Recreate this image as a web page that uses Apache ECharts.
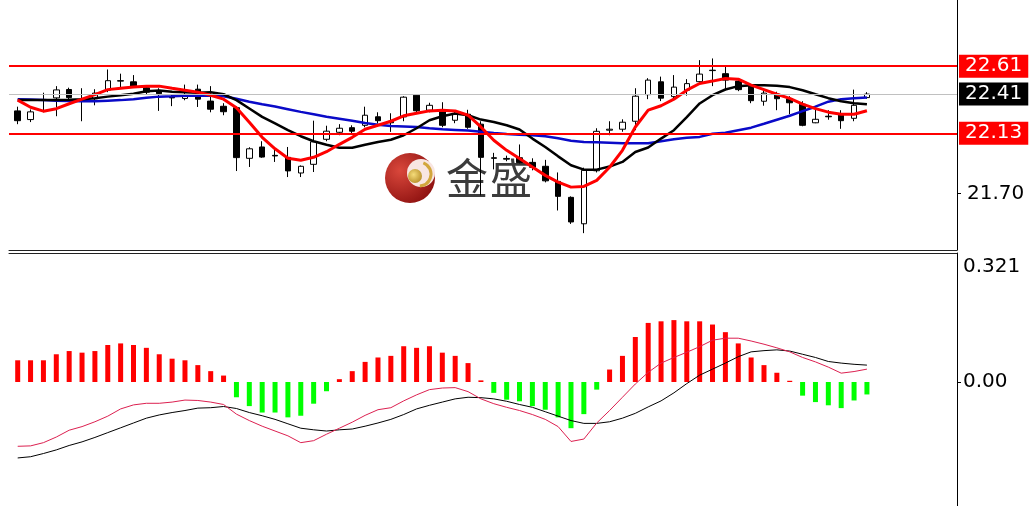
<!DOCTYPE html>
<html><head><meta charset="utf-8">
<script src="https://cdn.jsdelivr.net/npm/echarts@6/dist/echarts.min.js"></script>
<style>html,body{margin:0;padding:0;background:#fff}#c{width:1033px;height:506px}</style>
</head><body><div id="c"></div>
<script>
// ---- price candles (open / close / low / high) ----
const openP = [22.29,22.228,22.366,22.383,22.443,22.375,22.377,22.438,22.506,22.498,22.456,22.43,22.388,22.379,22.445,22.36,22.323,22.313,21.951,22.032,21.972,21.958,21.846,21.908,22.087,22.137,22.17,22.187,22.248,22.216,22.247,22.402,22.295,22.295,22.223,22.266,22.195,21.955,21.95,21.955,21.922,21.894,21.786,21.672,21.483,21.862,22.152,22.159,22.216,22.406,22.498,22.392,22.438,22.499,22.581,22.556,22.503,22.467,22.359,22.41,22.377,22.338,22.205,22.252,22.266,22.237,22.385];
const closeP = [22.22,22.283,22.37,22.44,22.385,22.37,22.417,22.506,22.503,22.467,22.424,22.413,22.383,22.407,22.374,22.302,22.284,21.956,22.019,21.96,21.968,21.861,21.894,22.069,22.145,22.166,22.145,22.259,22.22,22.205,22.388,22.291,22.33,22.187,22.266,22.173,21.958,21.951,21.945,21.92,21.887,21.79,21.679,21.496,21.865,22.144,22.159,22.209,22.395,22.51,22.381,22.46,22.485,22.553,22.578,22.51,22.442,22.363,22.417,22.377,22.348,22.187,22.23,22.248,22.22,22.33,22.41];
const lowP = [22.195,22.21,22.28,22.252,22.374,22.216,22.33,22.424,22.452,22.456,22.41,22.29,22.324,22.366,22.318,22.28,22.259,21.86,21.889,21.955,21.925,21.817,21.817,21.853,22.073,22.116,22.13,22.173,22.20,22.14,22.216,22.273,22.28,22.173,22.202,22.162,21.686,21.872,21.93,21.915,21.865,21.779,21.578,21.482,21.416,21.85,22.116,22.141,22.152,22.374,22.36,22.377,22.399,22.481,22.467,22.438,22.431,22.345,22.327,22.295,22.266,22.18,22.202,22.227,22.162,22.216,22.377];
const highP = [22.32,22.30,22.42,22.467,22.456,22.452,22.445,22.586,22.556,22.546,22.467,22.452,22.41,22.478,22.478,22.467,22.345,22.323,22.03,22.073,22.02,22.032,21.90,22.22,22.184,22.195,22.187,22.32,22.28,22.273,22.395,22.41,22.348,22.352,22.295,22.298,22.216,21.99,21.97,22.05,21.951,21.94,21.85,21.679,21.884,22.166,22.216,22.23,22.452,22.524,22.535,22.546,22.517,22.653,22.665,22.61,22.517,22.474,22.438,22.427,22.395,22.359,22.306,22.295,22.295,22.442,22.424];

// ---- moving averages ----
const maFast = [22.367,22.316,22.288,22.306,22.341,22.374,22.406,22.442,22.452,22.460,22.467,22.467,22.452,22.438,22.424,22.402,22.374,22.313,22.209,22.101,22.019,21.951,21.937,21.958,21.998,22.051,22.101,22.159,22.187,22.216,22.255,22.273,22.290,22.295,22.290,22.259,22.175,22.080,22.008,21.949,21.889,21.829,21.781,21.745,21.750,21.793,21.887,22.008,22.175,22.295,22.327,22.374,22.438,22.486,22.503,22.522,22.517,22.474,22.442,22.409,22.379,22.338,22.306,22.281,22.266,22.266,22.291];
const maMid = [22.367,22.367,22.367,22.367,22.370,22.374,22.381,22.392,22.402,22.413,22.431,22.435,22.427,22.424,22.420,22.424,22.409,22.367,22.307,22.247,22.200,22.152,22.109,22.073,22.048,22.026,22.026,22.048,22.068,22.084,22.116,22.166,22.223,22.252,22.271,22.259,22.228,22.211,22.187,22.157,22.092,22.032,21.965,21.901,21.870,21.870,21.892,21.925,21.996,22.028,22.092,22.152,22.245,22.343,22.402,22.443,22.467,22.474,22.474,22.470,22.460,22.438,22.409,22.381,22.359,22.345,22.338];
const maSlow = [22.374,22.371,22.367,22.363,22.361,22.359,22.359,22.363,22.367,22.374,22.384,22.392,22.395,22.399,22.399,22.399,22.395,22.377,22.356,22.338,22.321,22.302,22.283,22.266,22.248,22.234,22.220,22.204,22.191,22.182,22.179,22.175,22.166,22.159,22.154,22.149,22.141,22.132,22.124,22.119,22.116,22.109,22.094,22.076,22.068,22.066,22.062,22.058,22.058,22.058,22.073,22.087,22.098,22.104,22.127,22.134,22.152,22.170,22.198,22.227,22.255,22.288,22.320,22.356,22.374,22.381,22.386];

// ---- horizontal levels ----
const levelHigh = 22.61;
const levelLast = 22.41;
const levelLow = 22.13;
const priceTicks = [21.70];

// ---- MACD panel ----
const macdHist = [0.054,0.054,0.054,0.069,0.077,0.073,0.077,0.092,0.096,0.092,0.085,0.069,0.058,0.054,0.042,0.027,0.016,-0.038,-0.060,-0.076,-0.076,-0.088,-0.084,-0.054,-0.023,0.007,0.027,0.050,0.061,0.065,0.089,0.085,0.089,0.073,0.065,0.047,0.004,-0.027,-0.044,-0.048,-0.060,-0.069,-0.088,-0.115,-0.080,-0.019,0.031,0.065,0.112,0.147,0.151,0.154,0.151,0.151,0.143,0.124,0.096,0.061,0.042,0.023,0.003,-0.034,-0.050,-0.058,-0.065,-0.046,-0.031];
const macdLine = [-0.160,-0.159,-0.151,-0.137,-0.120,-0.111,-0.099,-0.085,-0.067,-0.057,-0.053,-0.053,-0.050,-0.045,-0.046,-0.050,-0.056,-0.080,-0.096,-0.110,-0.122,-0.134,-0.151,-0.146,-0.130,-0.115,-0.100,-0.083,-0.069,-0.064,-0.047,-0.032,-0.019,-0.015,-0.014,-0.024,-0.042,-0.054,-0.063,-0.071,-0.081,-0.093,-0.111,-0.148,-0.142,-0.102,-0.071,-0.038,-0.005,0.024,0.047,0.061,0.074,0.088,0.104,0.109,0.109,0.102,0.094,0.085,0.075,0.061,0.050,0.037,0.022,0.026,0.032];
const signalLine = [-0.189,-0.186,-0.178,-0.169,-0.158,-0.149,-0.138,-0.126,-0.114,-0.102,-0.090,-0.082,-0.076,-0.071,-0.065,-0.064,-0.061,-0.066,-0.076,-0.084,-0.093,-0.104,-0.115,-0.119,-0.122,-0.119,-0.117,-0.110,-0.102,-0.093,-0.081,-0.067,-0.058,-0.050,-0.042,-0.038,-0.039,-0.042,-0.048,-0.056,-0.063,-0.074,-0.085,-0.096,-0.103,-0.103,-0.099,-0.090,-0.078,-0.062,-0.047,-0.027,-0.004,0.017,0.032,0.047,0.063,0.075,0.078,0.080,0.077,0.069,0.061,0.051,0.047,0.044,0.042];
const macdTop = 0.321;
const macdZero = 0;

const FONT = '"DejaVu Sans", Verdana, sans-serif';
const pair = arr => arr.map((v, i) => [i, v]);
const candleData = openP.map((o, i) => [i, o, closeP[i], lowP[i], highP[i]]);

const chart = echarts.init(document.getElementById('c'), null, {renderer: 'canvas'});

const boxLabel = (text, bg) => ({
  show: true, position: 'end', formatter: text, distance: 2,
  color: '#fff', backgroundColor: bg, padding: [2, 6, 1, 6],
  fontSize: 20, fontFamily: FONT, lineHeight: 20
});

const option = {
  animation: false,
  backgroundColor: '#ffffff',
  grid: [
    {left: 9, right: 76, top: 0, bottom: 256},
    {left: 9, right: 76, top: 253, bottom: 0}
  ],
  xAxis: [
    {type: 'value', gridIndex: 0, min: -0.676, max: 73, position: 'bottom',
     axisLine: {show: true, onZero: false, lineStyle: {color: '#222', width: 1}},
     axisTick: {show: false}, axisLabel: {show: false}, splitLine: {show: false}},
    {type: 'value', gridIndex: 1, min: -0.676, max: 73, position: 'top',
     axisLine: {show: true, onZero: false, lineStyle: {color: '#222', width: 1}},
     axisTick: {show: false}, axisLabel: {show: false}, splitLine: {show: false}}
  ],
  yAxis: [
    {type: 'value', gridIndex: 0, position: 'right', min: 21.2955, max: 23.0828,
     axisLine: {show: true, onZero: false, lineStyle: {color: '#000', width: 1}},
     axisTick: {show: true, length: 4, customValues: priceTicks, lineStyle: {color: '#000'}},
     axisLabel: {customValues: priceTicks, formatter: v => v.toFixed(2), color: '#000', fontSize: 20, fontFamily: FONT, margin: 10},
     splitLine: {show: false}},
    {type: 'value', gridIndex: 1, position: 'right', min: -0.3086, max: macdTop,
     axisLine: {show: true, onZero: false, lineStyle: {color: '#000', width: 1}},
     axisTick: {show: true, length: 4, customValues: [macdZero], lineStyle: {color: '#000'}},
     axisLabel: {customValues: [macdZero], formatter: v => v.toFixed(2), color: '#000', fontSize: 20, fontFamily: FONT, margin: 6},
     splitLine: {show: false}},
    {type: 'value', gridIndex: 1, position: 'right', min: -0.3086, max: macdTop,
     axisLine: {show: false, onZero: false}, axisTick: {show: false},
     axisLabel: {customValues: [macdTop], formatter: v => v.toFixed(3), color: '#000', fontSize: 20, fontFamily: FONT, margin: 6, verticalAlign: 'top', padding: [4, 0, 0, 0]},
     splitLine: {show: false}}
  ],
  graphic: [
    {type: 'circle', z: 0, silent: true, shape: {cx: 410, cy: 178, r: 25},
     style: {fill: new echarts.graphic.RadialGradient(0.3, 0.35, 0.85, [{offset: 0, color: '#d9473b'}, {offset: 1, color: '#850b0b'}])}},
    {type: 'circle', z: 0, silent: true, shape: {cx: 421, cy: 173, r: 14}, style: {fill: '#f8e6e2'}},
    {type: 'circle', z: 0, silent: true, shape: {cx: 415, cy: 176, r: 7},
     style: {fill: new echarts.graphic.RadialGradient(0.4, 0.4, 0.7, [{offset: 0, color: '#f5dc7a'}, {offset: 1, color: '#b48a25'}])}},
    {type: 'arc', z: 0, silent: true, shape: {cx: 419, cy: 174, r: 12, startAngle: -1.2, endAngle: 1.5},
     style: {stroke: '#d2a63c', lineWidth: 3, fill: null}},
    {type: 'text', z: 0, silent: true, x: 446, y: 178,
     style: {text: '金', font: '42px "Noto Sans CJK SC"', fill: '#3c3c3c', verticalAlign: 'middle'}},
    {type: 'text', z: 0, silent: true, x: 490, y: 178,
     style: {text: '盛', font: '42px "Noto Sans CJK SC"', fill: '#3c3c3c', verticalAlign: 'middle'}}
  ],
  series: [
    {type: 'candlestick', xAxisIndex: 0, yAxisIndex: 0, data: candleData,
     encode: {x: 0, y: [1, 2, 3, 4]}, barWidth: 6, silent: true,
     itemStyle: {color: '#ffffff', color0: '#000000', borderColor: '#000000', borderColor0: '#000000', borderColorDoji: '#000000', borderWidth: 1}},
    {type: 'line', xAxisIndex: 0, yAxisIndex: 0, data: pair(maSlow), symbol: 'none', silent: true,
     lineStyle: {color: '#0a0ac8', width: 2.5}},
    {type: 'line', xAxisIndex: 0, yAxisIndex: 0, data: pair(maMid), symbol: 'none', silent: true,
     lineStyle: {color: '#000000', width: 2.5}},
    {type: 'line', xAxisIndex: 0, yAxisIndex: 0, data: pair(maFast), symbol: 'none', silent: true,
     lineStyle: {color: '#ff0000', width: 3},
     markLine: {symbol: ['none', 'none'], silent: true, animation: false,
       data: [
         {yAxis: levelLast, lineStyle: {color: '#c0c0c0', width: 1, type: 'solid'}, label: boxLabel(levelLast.toFixed(2), '#000000')},
         {yAxis: levelHigh, lineStyle: {color: '#ff0000', width: 2, type: 'solid'}, label: boxLabel(levelHigh.toFixed(2), '#ff0000')},
         {yAxis: levelLow, lineStyle: {color: '#ff0000', width: 2, type: 'solid'}, label: boxLabel(levelLow.toFixed(2), '#ff0000')}
       ]}},
    {type: 'bar', xAxisIndex: 1, yAxisIndex: 1, data: pair(macdHist), barWidth: 5, silent: true,
     itemStyle: {color: p => (p.value[1] >= 0 ? '#ff0000' : '#00ff00')}},
    {type: 'line', xAxisIndex: 1, yAxisIndex: 1, data: pair(signalLine), symbol: 'none', silent: true,
     lineStyle: {color: '#000000', width: 1}},
    {type: 'line', xAxisIndex: 1, yAxisIndex: 1, data: pair(macdLine), symbol: 'none', silent: true,
     lineStyle: {color: '#dc2050', width: 1}}
  ]
};
chart.setOption(option);
</script>
</body></html>
